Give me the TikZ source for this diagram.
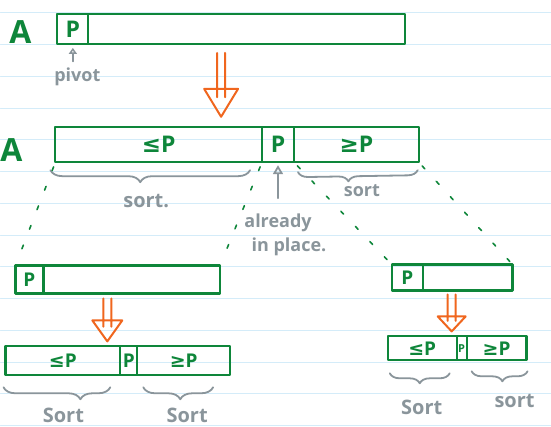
\documentclass[tikz,border=0pt]{standalone}
\usepackage{fontspec}
\setmainfont{Open Sans}
\newfontfamily\symb{DejaVu Sans}
\usetikzlibrary{arrows.meta,positioning,calc,decorations.pathreplacing}
\definecolor{ink}{RGB}{14,134,58}
\definecolor{marker}{RGB}{240,102,30}
\definecolor{pencil}{RGB}{138,149,155}
\definecolor{ruling}{RGB}{212,236,249}

\begin{document}
\begin{tikzpicture}
[x=1pt, y=-1pt, line cap=round, line join=round,
cell/.style={rectangle, draw=ink, line width=2.2pt, inner sep=0pt, outer sep=0pt, text=ink, font=\fontsize{23}{26}\selectfont\bfseries},
cellsm/.style={cell, font=\fontsize{19}{22}\selectfont\bfseries},
letter/.style={text=ink, font=\fontsize{32}{36}\selectfont\bfseries},
note/.style={text=pencil, font=\fontsize{18}{20}\selectfont\bfseries},
hint/.style={draw=pencil, line width=1.8pt, -{Triangle[open, length=9pt, width=10pt]}},
sortbrace/.style={draw=pencil, line width=1.8pt, decorate, decoration={brace, mirror, amplitude=12pt}},
fork/.style={draw=ink, line width=1.6pt, dash pattern=on 4pt off 17pt, shorten <=5pt, shorten >=4pt},
push/.style={draw=marker, line width=2pt},
rule/.style={draw=ruling, line width=1pt}]

% lined paper
\fill[white] (0,0) rectangle (551,427);
\foreach \k in {0,...,13}
  \draw[rule] (0,13+31.8*\k) -- (551,13+31.8*\k);
\useasboundingbox (0,0) rectangle (551,427);

% array before partitioning
\node[letter] (nameA) at (20,32) {A};
\node[cell, minimum width=31pt, minimum height=30pt] (pivA) at (72.5,29) {P};
\node[cell, minimum width=317pt, minimum height=30pt, right=0pt of pivA] (restA) {};
\node[note] (pivlbl) at (77,77) {pivot};
\draw[hint, shorten <=3pt, shorten >=4pt, -{Triangle[open, length=6pt, width=8pt]}] (pivlbl.north -| pivA) -- (pivA.south);

% array after partitioning
\node[letter] (nameB) at (11,150) {A};
\node[cell, minimum width=207pt, minimum height=35pt] (lessB) at (158.5,145) {{\symb\bfseries ≤}P};
\node[cell, minimum width=32pt, minimum height=35pt, right=0pt of lessB] (pivB) {P};
\node[cell, minimum width=125pt, minimum height=35pt, right=0pt of pivB] (moreB) {{\symb\bfseries ≥}P};

\draw[sortbrace, decoration={aspect=0.45}] ([shift={(-5,8)}]lessB.south west) -- ([shift={(-12,8)}]lessB.south east);
\node[note, font=\fontsize{20}{22}\selectfont\bfseries] (sortB1) at (146,201) {sort.};
\draw[sortbrace, decoration={aspect=0.42, amplitude=10pt}] ([shift={(4,10)}]moreB.south west) -- ([shift={(-1,8)}]moreB.south east);
\node[note] (sortB2) at (362,191) {sort};

\node[note] (already) at (278,223) {already};
\node[note] (inplace) at (289,247) {in place.};
\draw[hint, shorten <=12pt, shorten >=3pt] (already.north -| pivB) -- (pivB.south);

% left part
\node[cellsm, minimum width=28pt, minimum height=28pt] (pivC) at (29,280) {P};
\node[cellsm, minimum width=177pt, minimum height=28pt, right=0pt of pivC] (restC) {};
\node[cellsm, minimum width=115pt, minimum height=29pt] (lessD) at (62.5,361.5) {{\symb\bfseries ≤}P};
\node[cellsm, minimum width=17pt, minimum height=29pt, right=0pt of lessD] (pivD) {P};
\node[cellsm, minimum width=93pt, minimum height=29pt, right=0pt of pivD] (moreD) {{\symb\bfseries ≥}P};

\draw[sortbrace, decoration={aspect=0.72}] ([shift={(-2,12)}]lessD.south west) -- ([shift={(-10,12)}]lessD.south east);
\node[note, font=\fontsize{20}{22}\selectfont\bfseries] (sortD1) at (63,416) {Sort};
\draw[sortbrace, decoration={aspect=0.53}] ([shift={(6,12)}]moreD.south west) -- ([shift={(-17,12)}]moreD.south east);
\node[note, font=\fontsize{20}{22}\selectfont\bfseries] (sortD2) at (187,416) {Sort};

% right part
\node[cellsm, minimum width=31pt, minimum height=26pt] (pivE) at (407.5,278) {P};
\node[cellsm, minimum width=90pt, minimum height=26pt, right=0pt of pivE] (restE) {};
\node[cellsm, minimum width=69pt, minimum height=24pt] (lessF) at (422.5,349) {{\symb\bfseries ≤}P};
\node[cell, minimum width=10pt, minimum height=24pt, font=\fontsize{11}{12}\selectfont\bfseries, right=0pt of lessF] (pivF) {P};
\node[cellsm, minimum width=60pt, minimum height=24pt, right=0pt of pivF] (moreF) {{\symb\bfseries ≥}P};

\draw[sortbrace, decoration={aspect=0.5, amplitude=10pt}] ([shift={(2,13)}]lessF.south west) -- ([shift={(-7,13)}]lessF.south east);
\node[note, font=\fontsize{20}{22}\selectfont\bfseries] (sortF1) at (422,408) {Sort};
\draw[sortbrace, decoration={aspect=0.55, amplitude=10pt}] ([shift={(5,11)}]moreF.south west) -- ([shift={(1,11)}]moreF.south east);
\node[note, font=\fontsize{20}{22}\selectfont\bfseries] (sortF2) at (515,402) {sort};

% recursion split
\draw[fork] (lessB.south west) -- (pivC.north west);
\draw[fork] (pivB.south west) -- (restC.north east);
\draw[fork] (pivB.south east) -- (pivE.north west);
\draw[fork] (moreB.south east) -- (restE.north east);

% partition steps
\coordinate (fromA) at (221,53);
\coordinate (toB) at (221,117);
\coordinate (fromC) at (107,299);
\coordinate (toD) at (107,342);
\coordinate (fromE) at (452,295);
\coordinate (toF) at (452,332);
\foreach \s/\t/\l/\w in {fromA/toB/28/17, fromC/toD/21/15, fromE/toF/15/14} {
  \draw[push] ($(\s)+(-4,0)$) -- ($(\t)+(-4,-0.7*\l)$)
              ($(\s)+(4,0)$) -- ($(\t)+(4,-0.7*\l)$)
              ($(\t)+(-\w,-\l)$) -- ($(\t)+(\w,-\l)$) -- (\t) -- cycle;
}
\end{tikzpicture}
\end{document}
